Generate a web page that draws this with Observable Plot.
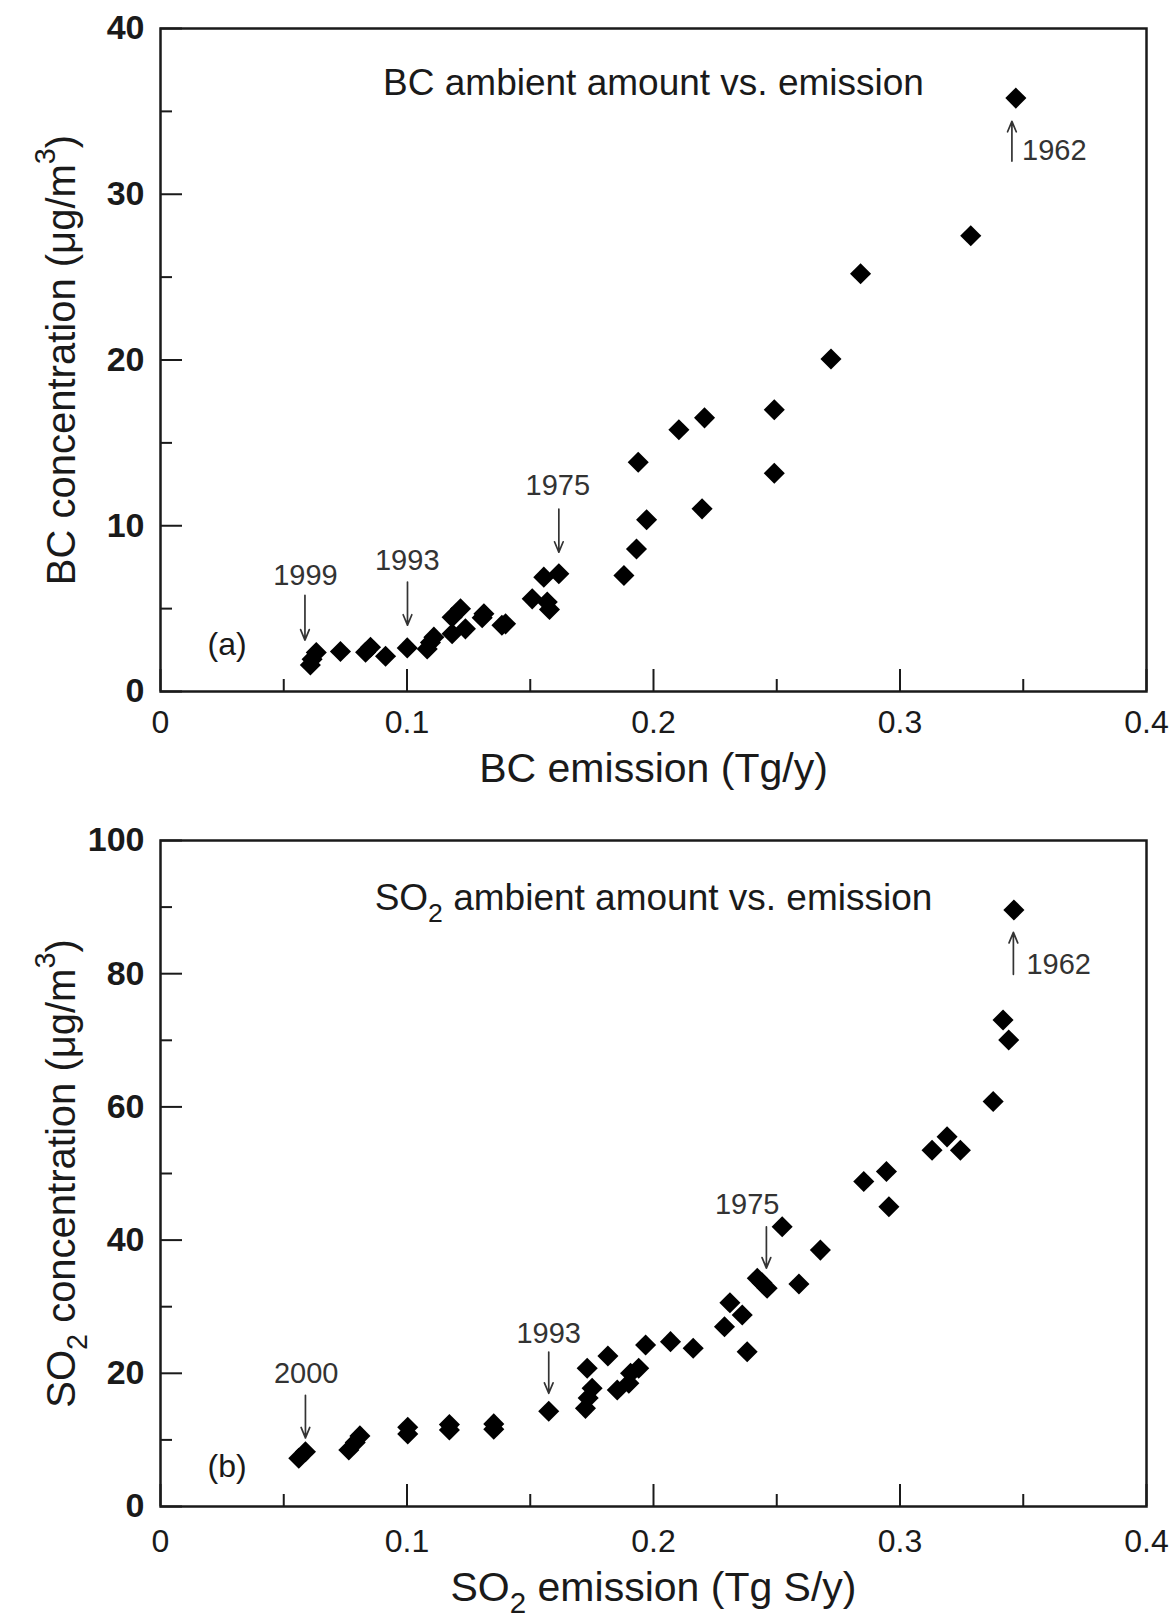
<!DOCTYPE html>
<html><head><meta charset="utf-8">
<script src="https://cdn.jsdelivr.net/npm/d3@7"></script>
<script src="https://cdn.jsdelivr.net/npm/@observablehq/plot@0.6"></script>
<style>
html,body{margin:0;padding:0;background:#fff;}
#chart{width:1172px;}
#chart svg{display:block;}
</style></head>
<body><div id="chart"></div>
<script>
// ---- tick values ----
const xTicksMajor = [0, 0.1, 0.2, 0.3, 0.4];
const xTicksMinor = [0.05, 0.15, 0.25, 0.35];
const bcYTicksMajor = [0, 10, 20, 30, 40];
const bcYTicksMinor = [5, 15, 25, 35];
const so2YTicksMajor = [0, 20, 40, 60, 80, 100];
const so2YTicksMinor = [10, 30, 50, 70, 90];

// ---- panel (a): BC ----
const bcEmission = [0.0608, 0.0615, 0.0632, 0.0730, 0.0832, 0.0852, 0.0913, 0.1001, 0.1082, 0.1095,
  0.1109, 0.1183, 0.1183, 0.1217, 0.1237, 0.1305, 0.1312, 0.1385, 0.1400, 0.1508,
  0.1555, 0.1569, 0.1578, 0.1616, 0.1880, 0.1931, 0.1972, 0.1938, 0.2197, 0.2103,
  0.2207, 0.2490, 0.2490, 0.2720, 0.2840, 0.3287, 0.3470];
const bcConcentration = [1.6, 1.95, 2.35, 2.41, 2.37, 2.67, 2.13, 2.63, 2.57, 2.95,
  3.28, 3.48, 4.48, 4.99, 3.78, 4.45, 4.69, 4.0, 4.08, 5.59,
  6.9, 5.4, 4.95, 7.1, 7.0, 8.6, 10.36, 13.83, 11.02, 15.79,
  16.51, 17.0, 13.17, 20.06, 25.2, 27.5, 35.8];
const bcLabelText = ["1999", "1993", "1975", "1962"];
const bcLabelX = [0.0588, 0.1001, 0.1612, 0.3495];
const bcLabelY = [7.0, 7.9, 12.4, 32.6];
const bcLabelAnchor = ["middle", "middle", "middle", "start"];
const bcArrowX = [0.0586, 0.1002, 0.1616, 0.3454];
const bcArrowFrom = [5.8, 6.6, 11.0, 32.0];
const bcArrowTo = [3.1, 4.0, 8.4, 34.4];

// ---- panel (b): SO2 ----
const so2Emission = [0.0561, 0.0588, 0.0764, 0.0790, 0.0809, 0.1003, 0.1003, 0.1172, 0.1172, 0.1352,
  0.1352, 0.1575, 0.1724, 0.1735, 0.1751, 0.1731, 0.1815, 0.1853, 0.1900, 0.1907,
  0.1940, 0.1968, 0.2069, 0.2161, 0.2288, 0.2310, 0.2360, 0.2380, 0.2421, 0.2440,
  0.2461, 0.2522, 0.2590, 0.2677, 0.2853, 0.2945, 0.2955, 0.3130, 0.3191, 0.3245,
  0.3378, 0.3418, 0.3441, 0.3462];
const so2Concentration = [7.24, 8.23, 8.48, 9.6, 10.6, 11.9, 10.9, 12.3, 11.5, 12.4,
  11.6, 14.3, 14.74, 16.3, 17.75, 20.75, 22.6, 17.5, 18.5, 20.0,
  20.75, 24.25, 24.75, 23.75, 27.0, 30.6, 28.75, 23.24, 34.26, 33.6,
  32.76, 42.0, 33.4, 38.5, 48.8, 50.3, 45.0, 53.5, 55.5, 53.5,
  60.8, 73.05, 70.05, 89.56];
const so2LabelText = ["2000", "1993", "1975", "1962"];
const so2LabelX = [0.0591, 0.1575, 0.2380, 0.3513];
const so2LabelY = [20.0, 26.0, 45.3, 81.4];
const so2LabelAnchor = ["middle", "middle", "middle", "start"];
const so2ArrowX = [0.0588, 0.1575, 0.2458, 0.3460];
const so2ArrowFrom = [16.7, 23.2, 42.0, 79.9];
const so2ArrowTo = [10.3, 17.0, 35.8, 86.2];

// ---- texts ----
const bcTitle = "BC ambient amount vs. emission";
const bcXTitle = "BC emission (Tg/y)";
const bcYTitle = "BC concentration (μg/m³)";
const so2Title = "SO₂ ambient amount vs. emission";
const so2XTitle = "SO₂ emission (Tg S/y)";
const so2YTitle = "SO₂ concentration (μg/m³)";
const panelLabels = ["(a)", "(b)"];
const panelLabelX = [0.027, 0.027];
const panelLabelY = [2.8, 6.0];

const FONT = "'Liberation Sans', Arial, Helvetica, sans-serif";
const INK = "#1a1a1a";

function panel(o) {
  const W = 1172, ml = 160, mr = 26;
  const iw = W - ml - mr, ih = o.height - o.mt - o.mb;
  const pts = o.xs.map((x, i) => ({x, y: o.ys[i]}));
  const labels = o.labelText.map((t, i) => ({t, x: o.labelX[i], y: o.labelY[i], a: o.labelAnchor[i]}));
  const arrows = o.arrowX.map((x, i) => ({x, y1: o.arrowFrom[i], y2: o.arrowTo[i]}));
  return Plot.plot({
    width: W, height: o.height,
    marginTop: o.mt, marginBottom: o.mb, marginLeft: ml, marginRight: mr,
    x: {domain: [0, 0.4], axis: null},
    y: {domain: o.yDomain, axis: null},
    style: {fontFamily: FONT, background: "#fff", color: INK, overflow: "visible"},
    marks: [
      Plot.tickX(xTicksMajor, {x: d => d, insetTop: ih - 22, stroke: INK, strokeWidth: 2}),
      Plot.tickX(xTicksMinor, {x: d => d, insetTop: ih - 12, stroke: INK, strokeWidth: 2}),
      Plot.tickY(o.yMajor, {y: d => d, insetRight: iw - 22, stroke: INK, strokeWidth: 2}),
      Plot.tickY(o.yMinor, {y: d => d, insetRight: iw - 12, stroke: INK, strokeWidth: 2}),
      Plot.frame({stroke: INK, strokeWidth: 2.5}),
      Plot.text(xTicksMajor, {x: d => d, frameAnchor: "bottom", dy: o.tickDy, lineAnchor: "middle",
        textAnchor: "middle", text: d => String(d), fontSize: 32, fill: INK}),
      Plot.text(o.yMajor, {y: d => d, frameAnchor: "left", dx: -16, textAnchor: "end", lineAnchor: "middle",
        text: d => String(d), fontSize: 34, fontWeight: "bold", fill: INK}),
      Plot.text([o.xTitle], {frameAnchor: "bottom", dy: o.xTitleDy, lineAnchor: "middle", textAnchor: "middle",
        text: d => d, fontSize: 41, fill: INK}),
      Plot.text([o.yTitle], {frameAnchor: "left", dx: -98, rotate: -90, textAnchor: "middle", lineAnchor: "middle",
        text: d => d, fontSize: 40, fill: INK}),
      Plot.text([o.title], {frameAnchor: "top", dy: o.titleDy, lineAnchor: "middle", textAnchor: "middle",
        text: d => d, fontSize: 37, fill: INK}),
      Plot.text([o.panelLabel], {x: o.panelLabelX, y: o.panelLabelY, text: d => d, fontSize: 32, fill: INK}),
      Plot.arrow(arrows, {x1: "x", x2: "x", y1: "y1", y2: "y2", stroke: "#333", strokeWidth: 1.7,
        headLength: 10, headAngle: 45}),
      Plot.text(labels.filter(d => d.a === "middle"), {x: "x", y: "y", text: "t", fontSize: 29, fill: "#333"}),
      Plot.text(labels.filter(d => d.a === "start"), {x: "x", y: "y", text: "t", textAnchor: "start",
        fontSize: 29, fill: "#333"}),
      Plot.dot(pts, {x: "x", y: "y", symbol: d3.symbolDiamond2, r: 9.5, fill: "#000", stroke: "none"})
    ]
  });
}

function richify(svg) {
  const NS = "http://www.w3.org/2000/svg";
  svg.querySelectorAll("text").forEach(t => {
    const s = t.textContent;
    if (!/[₂³]/.test(s)) return;
    while (t.firstChild) t.removeChild(t.firstChild);
    let pending = 0;
    s.split(/([₂³])/).forEach(p => {
      if (!p) return;
      const ts = document.createElementNS(NS, "tspan");
      if (p === "₂" || p === "³") {
        const sub = p === "₂";
        ts.textContent = sub ? "2" : "3";
        ts.setAttribute("style", "font-size:72%");
        const shift = sub ? 0.42 : -0.72;
        ts.setAttribute("dy", shift + "em");
        pending = -shift * 0.72;
      } else {
        ts.textContent = p;
        if (pending) ts.setAttribute("dy", pending.toFixed(3) + "em");
        pending = 0;
      }
      t.appendChild(ts);
    });
  });
}

const topPanel = panel({
  height: 800, mt: 28, mb: 109, yDomain: [0, 40],
  yMajor: bcYTicksMajor, yMinor: bcYTicksMinor,
  xs: bcEmission, ys: bcConcentration,
  labelText: bcLabelText, labelX: bcLabelX, labelY: bcLabelY, labelAnchor: bcLabelAnchor,
  arrowX: bcArrowX, arrowFrom: bcArrowFrom, arrowTo: bcArrowTo,
  title: bcTitle, titleDy: 55, xTitle: bcXTitle, yTitle: bcYTitle,
  panelLabel: panelLabels[0], panelLabelX: panelLabelX[0], panelLabelY: panelLabelY[0],
  tickDy: 31, xTitleDy: 77
});
const bottomPanel = panel({
  height: 816, mt: 40, mb: 110, yDomain: [0, 100],
  yMajor: so2YTicksMajor, yMinor: so2YTicksMinor,
  xs: so2Emission, ys: so2Concentration,
  labelText: so2LabelText, labelX: so2LabelX, labelY: so2LabelY, labelAnchor: so2LabelAnchor,
  arrowX: so2ArrowX, arrowFrom: so2ArrowFrom, arrowTo: so2ArrowTo,
  title: so2Title, titleDy: 58, xTitle: so2XTitle, yTitle: so2YTitle,
  panelLabel: panelLabels[1], panelLabelX: panelLabelX[1], panelLabelY: panelLabelY[1],
  tickDy: 35, xTitleDy: 81
});
richify(topPanel); richify(bottomPanel);
const chartEl = document.getElementById("chart");
chartEl.appendChild(topPanel);
chartEl.appendChild(bottomPanel);
</script>
</body></html>
